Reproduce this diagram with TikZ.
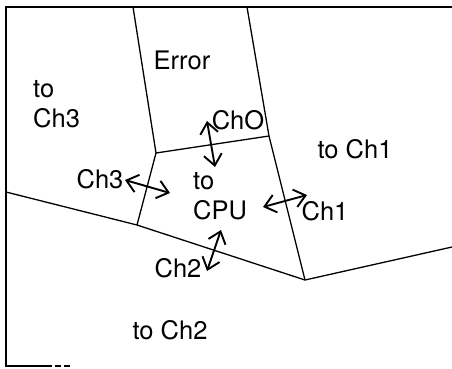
\documentclass[tikz,border=0pt]{standalone}
\usepackage{fontspec}
\setmainfont{TeX Gyre Heros}
\usetikzlibrary{arrows.meta}
\begin{document}
\begin{tikzpicture}[x=1pt,y=-1pt,
  wall/.style={line width=1.3pt},
  link/.style={line width=1.9pt,{Straight Barb[length=11pt,width=18pt]}-{Straight Barb[length=11pt,width=18pt]}},
  lbl/.style={inner sep=0pt,font=\fontsize{25.5}{30}\selectfont}]
\useasboundingbox (0,0) rectangle (452,368);
% frame points
\coordinate (tl) at (6,7);
\coordinate (tr) at (452,7);
\coordinate (bl) at (6,366);
\coordinate (bm) at (46,366);
\coordinate (bd) at (72,366);
% region corners
\coordinate (e1t) at (133,7);
\coordinate (e2t) at (247,7);
\coordinate (a) at (156,153);
\coordinate (b) at (269,136);
\coordinate (c) at (137,225);
\coordinate (d) at (305,280);
\coordinate (lw) at (6,192);
\coordinate (re) at (452,247);
% frame
\draw[wall] (tr) -- (tl) -- (bl) -- (bm);
\draw[wall,dash pattern=on 6pt off 3pt] (bm) -- (bd);
% walls
\draw[wall] (e1t) -- (a) -- (c);
\draw[wall] (e2t) -- (b) -- (d);
\draw[wall] (a) -- (b);
\draw[wall] (lw) -- (c) -- (d) -- (re);
% labels
\node[lbl] (err) at (182,60) {Error};
\node[lbl,align=left,anchor=west] (toch3) at (33,104) {to\\Ch3};
\node[lbl] (toch1) at (355,149) {to Ch1};
\node[lbl,align=left,anchor=west] (tocpu) at (193,196) {to\\CPU};
\node[lbl] (toch2) at (170,330) {to Ch2};
\node[lbl] (ch0) at (238,120) {ChO};
\node[lbl] (ch3) at (100,179) {Ch3};
\node[lbl] (ch1) at (325,211) {Ch1};
\node[lbl] (ch2) at (178,268) {Ch2};
% arrows
\coordinate (p0a) at (207,121);
\coordinate (p0b) at (215,167);
\coordinate (p3a) at (125,180);
\coordinate (p3b) at (170,193);
\coordinate (p1a) at (263,207);
\coordinate (p1b) at (307,195);
\coordinate (p2a) at (221,230);
\coordinate (p2b) at (207,271);
\draw[link] (p0a) -- (p0b);
\draw[link] (p3a) -- (p3b);
\draw[link] (p1a) -- (p1b);
\draw[link] (p2a) -- (p2b);
\end{tikzpicture}
\end{document}
